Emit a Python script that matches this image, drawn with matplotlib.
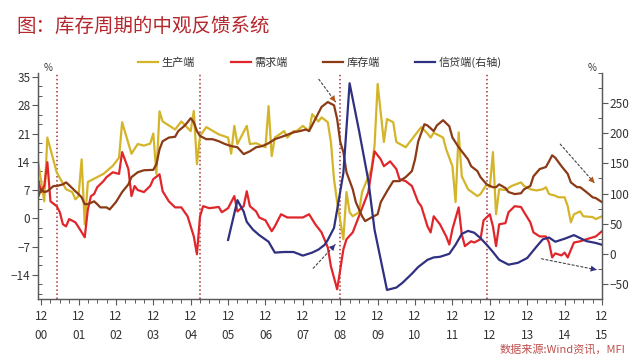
import numpy as np
import matplotlib.pyplot as plt
from matplotlib.ticker import MultipleLocator

plt.rcParams['font.family'] = ['Noto Sans CJK SC', 'DejaVu Sans']

# x = months since Dec 2000
prod_m = [-1, 1, 2, 5, 8, 10, 11, 12, 13, 14, 15, 18, 20, 23, 25, 26, 29, 31, 33, 35, 36, 37, 38, 39,
          43, 45, 48, 49, 50, 51, 53, 57, 60, 61, 62, 63, 66, 67, 69, 72, 73, 74, 75, 78, 79, 81, 82,
          84, 86, 87, 89, 90, 92, 93, 94, 95, 97, 98, 99, 100, 102, 103, 106, 107, 108, 110, 111, 113,
          114, 117, 119, 122, 124, 125, 126, 129, 130, 132, 133, 134, 135, 137, 140, 141, 143, 144,
          145, 146, 147, 149, 151, 154, 155, 157, 159, 161, 162, 163, 165, 166, 168, 169, 170, 171,
          173, 174, 177, 178, 180]
prod_v = [14.1, 4.2, 20, 11.4, 7.2, 6.5, 4.7, 5.5, 14.6, -1.5, 9, 10.2, 11, 13, 15, 23.8, 16, 18.4,
          18, 18.5, 21, 11, 26.5, 24, 22, 24, 21.6, 26.6, 13.4, 20.4, 22.6, 20.8, 20, 16, 22.9, 18.4,
          22.9, 18.4, 18.6, 17.6, 27.8, 15.4, 20, 21.6, 20, 21.6, 21.6, 22.9, 21.6, 25.8, 24, 25,
          23.8, 18.9, 9.7, 4, -5.2, 6.5, 1.5, 0.5, 1.5, 6.5, 12.2, 17.9, 33.3, 18.9, 24.6, 23.8,
          18.9, 17.6, 19.6, 22.6, 21, 20, 21.2, 20, 17.1, 12.9, 4, 21.3, 10.4, 7.2, 5.5, 6, 8.4,
          7.7, 16.4, 1, 7.2, 7, 8, 8.9, 8, 7.2, 6.9, 7.2, 7.7, 6, 5.6, 5.2, 5.2, 3, -1, 1, 1.7, 0.5,
          0.3, -0.2, 0.5]

dem_m = [-1, 0, 1, 2, 3, 5, 6, 7, 8, 9, 11, 12, 14, 15, 16, 17, 18, 20, 21, 23, 25, 26, 28, 29, 30,
         31, 33, 35, 36, 38, 39, 41, 43, 45, 47, 49, 50, 51, 52, 54, 57, 58, 60, 62, 63, 65, 66, 67,
         69, 70, 72, 74, 75, 77, 79, 82, 84, 86, 88, 90, 92, 93, 95, 96, 97, 98, 100, 102, 105, 107,
         109, 110, 112, 114, 115, 117, 119, 121, 122, 124, 125, 126, 128, 130, 131, 132, 134, 135,
         136, 138, 139, 141, 142, 144, 145, 146, 147, 149, 150, 152, 154, 155, 157, 158, 160, 162,
         163, 164, 165, 167, 168, 169, 171, 173, 175, 178, 180]
dem_v = [9.7, 6.5, 8, 13.9, 4.2, 3, 1.5, -1.5, -2, -0.2, -1, -2.2, -4.7, 2.2, 5.5, 6, 7.7, 9.2, 10.2,
         11.4, 11, 16.4, 12.2, 5.5, 8, 7, 6.5, 8, 9.7, 10.9, 6.7, 4.2, 2.7, 2.7, 0.5, -4.5, -8.9, 0.5,
         3, 2.5, 2.8, 1.5, 2.5, 5.5, 1.7, 3, 6.7, 3, 1.7, 0.2, -0.5, -3.2, -2, 1, 0.2, 0.2, 0.2, 1,
         -1.5, -3.5, -7.2, -11.9, -17.6, -12.7, -7.7, -5.2, -3.5, 0.5, 6.5, 16.6, 14.6, 12.9, 14.1,
         12.2, 9.7, 9.2, 8, 4, 3, -2, -3.5, 0.5, -1.5, -4.5, -6.5, -2.7, 2.7, -4, -6.9, -5.7, -6,
         -5.2, -0.5, 1, -2, -6.9, -1.5, -1.2, 1.5, 3, 2.8, 1.5, -1, -3.5, -4.5, -4.5, -6, -9.7, -8.7,
         -9.2, -8.5, -9.7, -6, -5.7, -5.2, -4.5, -3.2]

inv_m = [-1, 0, 1, 2, 4, 5, 7, 8, 9, 11, 12, 13, 14, 15, 17, 18, 19, 21, 22, 24, 26, 28, 29, 31, 33,
         36, 37, 38, 39, 41, 43, 44, 46, 47, 48, 49, 50, 51, 53, 55, 57, 59, 61, 63, 65, 67, 69, 71,
         73, 75, 78, 81, 83, 85, 86, 88, 90, 92, 94, 95, 96, 97, 98, 100, 101, 103, 104, 106, 108,
         109, 111, 113, 115, 117, 119, 120, 121, 123, 124, 126, 127, 129, 131, 132, 134, 137, 138,
         140, 141, 143, 145, 146, 147, 149, 150, 152, 154, 155, 157, 158, 160, 162, 163, 164, 165,
         167, 169, 170, 172, 173, 175, 177, 178, 180]
inv_v = [5.2, 7.2, 6.5, 6.7, 8, 8, 8.4, 8.9, 8.2, 6.7, 6, 5.2, 3.5, 3.5, 4.2, 3.5, 2.7, 2.7, 2.2, 4,
         6.5, 8.4, 10.2, 11.4, 11.9, 12, 13.4, 17.1, 19.1, 20, 20.2, 21.6, 22.9, 23.8, 24.8, 23.8,
         21.6, 20.4, 19.6, 19.6, 19.1, 18.4, 17.9, 17.6, 15.9, 16.6, 17.6, 17.9, 18.6, 19.6, 20.4,
         21.3, 21.6, 22, 21.6, 24.6, 27.6, 28.8, 28, 24.6, 18.9, 16.4, 11.4, 7.2, 4, 0.5, -0.7, 0.2,
         1, 4, 6.7, 9.2, 9.2, 10.2, 11.7, 14.6, 19, 23.3, 23, 21.6, 23, 24.3, 22.8, 20, 17.6, 14.6,
         12.9, 11.7, 10.2, 8.4, 7.7, 7.7, 8.4, 7.5, 6.5, 6, 6.2, 7.2, 8, 10.4, 12.2, 12.7, 14.1,
         15.6, 15, 12.9, 11, 8.9, 7.7, 7.7, 6.5, 5.2, 5, 4]

cred_m = [60, 63, 65, 66, 68, 70, 73, 75, 78, 81, 84, 87, 89, 91, 92, 94, 95, 97, 99, 102, 105, 107,
          109, 111, 114, 116, 119, 121, 124, 126, 128, 131, 133, 135, 137, 139, 141, 143, 145, 147,
          150, 153, 156, 159, 161, 163, 165, 168, 171, 173, 175, 178, 180]
cred_v = [23, 89, 70, 53, 40, 31, 20, 2, 3, 3, -3, 2, 7, 15, 23, 43, 73, 134, 283, 205, 122, 40, -10,
          -60, -56, -48, -33, -22, -10, -6, -5, 0, 15, 33, 38, 35, 26, 15, 3, -10, -18, -15, -7, 12,
          24, 27, 20, 25, 31, 26, 21, 18, 15]

cycle_marks = [5, 51, 96, 143]
year_ticks = list(range(0, 181, 12))
year_labels = ['12\n%02d' % y for y in range(0, 16)]

fig = plt.figure(figsize=(6.4, 3.59), dpi=100)
ax = fig.add_axes([38 / 640, 60 / 359, 564 / 640, 226 / 359])
ax2 = ax.twinx()

ax.plot(prod_m, prod_v, color='#D4B52A', lw=1.6, label='生产端')
ax.plot(dem_m, dem_v, color='#E1262B', lw=1.6, label='需求端')
ax.plot(inv_m, inv_v, color='#8B3A16', lw=1.6, label='库存端')
ax2.plot(cred_m, cred_v, color='#2F3080', lw=1.6, label='信贷端(右轴)')

for m in cycle_marks:
    ax.axvline(m, color='#A8323A', ls=':', lw=1.1, zorder=0)

ax.set_xlim(-1, 180)
ax.set_ylim(-20, 36)
ax2.set_ylim(-75, 300)
ax.set_xticks(year_ticks)
ax.set_xticklabels(year_labels, linespacing=1.55)
ax.xaxis.set_minor_locator(MultipleLocator(3))
ax.set_yticks(np.arange(-14, 36, 7))
ax.yaxis.set_minor_locator(MultipleLocator(7 / 3))
ax2.set_yticks(np.arange(-50, 251, 50))
ax2.yaxis.set_minor_locator(MultipleLocator(25))

grey = '#5a5a5a'
for a in (ax, ax2):
    for s in a.spines.values():
        s.set_color(grey)
        s.set_linewidth(0.9)
    a.spines['top'].set_visible(False)
    a.tick_params(which='major', length=4, width=0.8, color=grey, labelsize=8.5,
                  labelcolor='#333333', pad=1.5)
    a.tick_params(which='minor', length=3, width=0.7, color=grey)
ax.tick_params(axis='y', which='minor', direction='in')
ax2.tick_params(axis='y', which='minor', direction='in')
ax.tick_params(axis='x', which='major', pad=4)
ax.tick_params(axis='x', which='minor', length=3)

ax.text(0.01, 1.0, '%', transform=ax.transAxes, fontsize=7, color='#333333', va='bottom')
ax2.text(0.99, 1.0, '%', transform=ax2.transAxes, fontsize=7, color='#333333', va='bottom', ha='right')

# trend arrows
arrows = [((88.6, 35), (95, 28.3), '#B2561E'),
          ((86.7, -12.9), (95, -6), '#2F3080'),
          ((166, 18.9), (178.2, 8.2), '#B2561E'),
          ((159.7, -9.9), (179.2, -12.9), '#2F3080')]
for (x0, y0), (x1, y1), c in arrows:
    ax.annotate('', xy=(x1, y1), xytext=(x0, y0),
                arrowprops=dict(arrowstyle='-', ls=(0, (2, 2)), color='#444444', lw=0.8))
    xm, ym = x0 + 0.8 * (x1 - x0), y0 + 0.8 * (y1 - y0)
    ax.annotate('', xy=(x1, y1), xytext=(xm, ym),
                arrowprops=dict(arrowstyle='-|>', color=c, lw=0, mutation_scale=11))

h1, l1 = ax.get_legend_handles_labels()
h2, l2 = ax2.get_legend_handles_labels()
fig.legend(h1 + h2, l1 + l2, loc='center', bbox_to_anchor=(0.5, 1 - 62 / 359), ncol=4,
           frameon=False, fontsize=8, handlelength=1.8, handletextpad=0.3, columnspacing=3.2,
           labelcolor='#333333')

fig.text(16 / 640, 1 - 26 / 359, '图：库存周期的中观反馈系统', fontsize=14, color='#B5272D',
         va='center', ha='left')
fig.text(625 / 640, 1 - 349 / 359, '数据来源:Wind资讯，MFI', fontsize=8, color='#C0504D',
         style='italic', ha='right', va='center')

fig.savefig('out.png', dpi=100)
